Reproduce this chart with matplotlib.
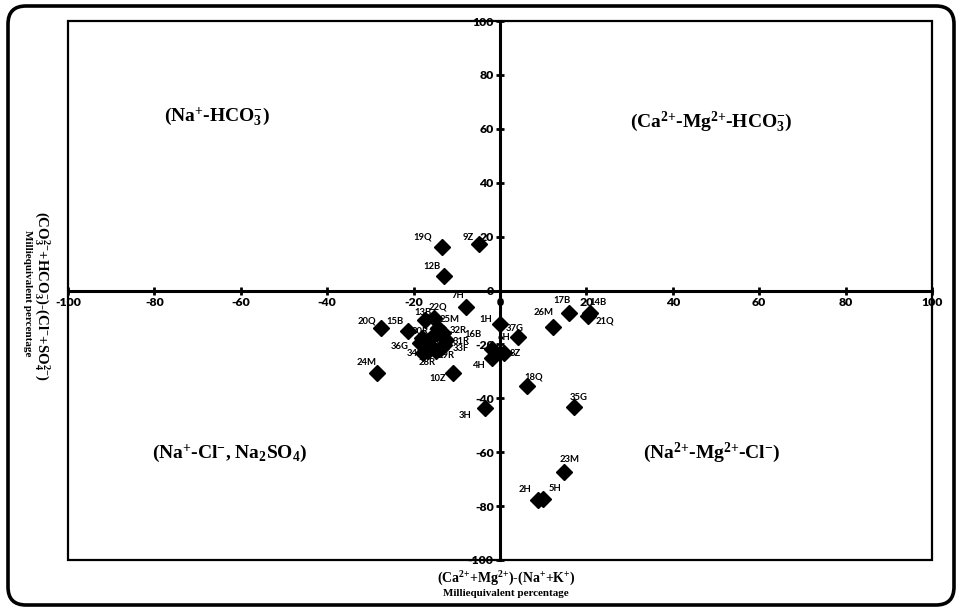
## CHADHA-TYPE DIAGRAM: milliequivalent percentage differences ##
import matplotlib as mpl
import matplotlib.pyplot as plt
from matplotlib.patches import FancyBboxPatch, Rectangle

plt.rcParams['mathtext.fontset'] = 'custom'
plt.rcParams['mathtext.rm'] = 'Liberation Serif:bold'
plt.rcParams['mathtext.bf'] = 'Liberation Serif:bold'
plt.rcParams['mathtext.default'] = 'bf'

## DATA ##
sample_names = ['19Q', '9Z', '12B', '7H', '17B', '14B', '21Q', '26M', '1H', '37G',
                '6H', '4H', '8Z', '18Q', '35G', '3H', '23M', '2H', '5H', '10Z',
                '24M', '20Q', '15B', '13B', '22Q', '25M', '30R', '32R', '16B', '31R',
                '33F', '29R', '28R', '34B', '36G', '38R', '27R']
ca_mg_minus_na_k = [-13.4, -4.9, -13.0, -7.9, 16.0, 20.8, 20.4, 12.3, 0.1, 4.2,
                    -1.9, -1.9, 0.9, 6.3, 17.1, -3.5, 14.8, 8.8, 10.0, -10.9,
                    -28.5, -27.5, -21.3, -17.4, -15.3, -14.4, -18.1, -13.2, -12.5, -13.0,
                    -13.7, -14.8, -16.7, -17.8, -18.5, -15.5, -16.7]
hco3_minus_cl_so4 = [16.1, 17.3, 5.4, -6.1, -8.3, -8.3, -9.5, -13.5, -12.4, -17.3,
                     -21.7, -25.0, -23.2, -35.4, -43.2, -43.6, -67.3, -77.7, -77.4, -30.6,
                     -30.6, -13.9, -15.0, -10.9, -10.2, -13.9, -17.6, -15.8, -18.4, -20.2,
                     -21.3, -22.4, -22.4, -23.2, -19.5, -16.9, -19.9]

ticks = list(range(-100, 101, 20))

# label offsets (pixels) from each marker
label_offset = [(-19, 10), (-11, 6), (-12, 9), (-8, 11), (-7, 12), (8, 10), (17, -5), (-10, 14), (-15, 4), (-3, 9),
                (12, 11), (-12, -8), (11, 0), (6, 9), (5, 9), (-20, -7), (6, 12), (-13, 10), (12, 11), (-15, -6),
                (-10, 10), (-14, 7), (-13, 9), (-2, 7), (4, 11), (12, 8), (-2, 6), (15, 3), (27, 6), (17, 3),
                (20, -1), (10, -5), (-1, -12), (-8, 0), (-20, -3), (4, 4), (4, 2)]

quadrant_text = [r'(Na$^{{+}}$-HCO$_3^{{-}}$)', r'(Ca$^{2{+}}$-Mg$^{2{+}}$-HCO$_3^{{-}}$)',
                 r'(Na$^{{+}}$-Cl$^{{-}}$, Na$_2$SO$_4$)', r'(Na$^{2{+}}$-Mg$^{2{+}}$-Cl$^{{-}}$)']
quadrant_pos = [(-65.5, 64.5), (49.0, 62.5), (-62.5, -60.3), (49.0, -60.3)]

## FIGURE ##
fig = plt.figure(figsize=(9.56, 6.07), dpi=100)
ax = fig.add_axes([68/956, 1-560/607, (932-68)/956, (560-21)/607])
ax.set_xlim(-100, 100)
ax.set_ylim(-100, 100)

for s in ['top', 'right']:
    ax.spines[s].set_visible(False)
for s in ['left', 'bottom']:
    ax.spines[s].set_position('zero')
    ax.spines[s].set_linewidth(2.2)
ax.add_patch(Rectangle((0, 0), 1, 1, transform=ax.transAxes, fill=False, lw=1.6, ec='black', zorder=5, clip_on=False))

ax.set_xticks(ticks)
ax.set_yticks(ticks)
ax.tick_params(direction='inout', length=6, width=2, pad=1.5)
tick_font = dict(family='Lato', weight='heavy', size=8.8)
ax.set_xticklabels([str(t) for t in ticks], **tick_font)
ax.set_yticklabels([str(t) for t in ticks], **tick_font)

ax.plot(ca_mg_minus_na_k, hco3_minus_cl_so4, linestyle='none', marker='D', markersize=8.5,
        color='black', zorder=6, clip_on=False)

for name, xv, yv, off in zip(sample_names, ca_mg_minus_na_k, hco3_minus_cl_so4, label_offset):
    ax.annotate(name, (xv, yv), xytext=(off[0]*0.72, off[1]*0.72), textcoords='offset points',
                ha='center', va='center', fontsize=6.8, family='Lato', weight='bold', zorder=7)

for txt, pos in zip(quadrant_text, quadrant_pos):
    ax.text(pos[0], pos[1], txt, ha='center', va='center', fontsize=14,
            family='Liberation Serif', weight='bold')

# axis titles
fig.text(506/956, 1-579/607, r'(Ca$^{2{+}}$+Mg$^{2{+}}$)-(Na$^{{+}}$+K$^{{+}}$)', ha='center', va='center',
         fontsize=10, family='Liberation Serif', weight='bold')
fig.text(506/956, 1-594/607, 'Milliequivalent percentage', ha='center', va='center',
         fontsize=7.9, family='Liberation Serif', weight='bold')
fig.text(42/956, 1-296/607, r'(CO$_3^{2{-}}$+HCO$_3^{{-}}$)-(Cl$^{{-}}$+SO$_4^{2{-}}$)', ha='center', va='center',
         rotation=-90, fontsize=10.7, family='Liberation Serif', weight='bold')
fig.text(27/956, 1-293/607, 'Milliequivalent percentage', ha='center', va='center',
         rotation=-90, fontsize=8, family='Liberation Serif', weight='bold')

# rounded outer frame
fig.add_artist(FancyBboxPatch((8, 2), 946, 599, boxstyle='round,pad=0,rounding_size=18',
                              transform=None, fill=False, lw=2.6, ec='black'))

plt.savefig('out.png', dpi=100)
